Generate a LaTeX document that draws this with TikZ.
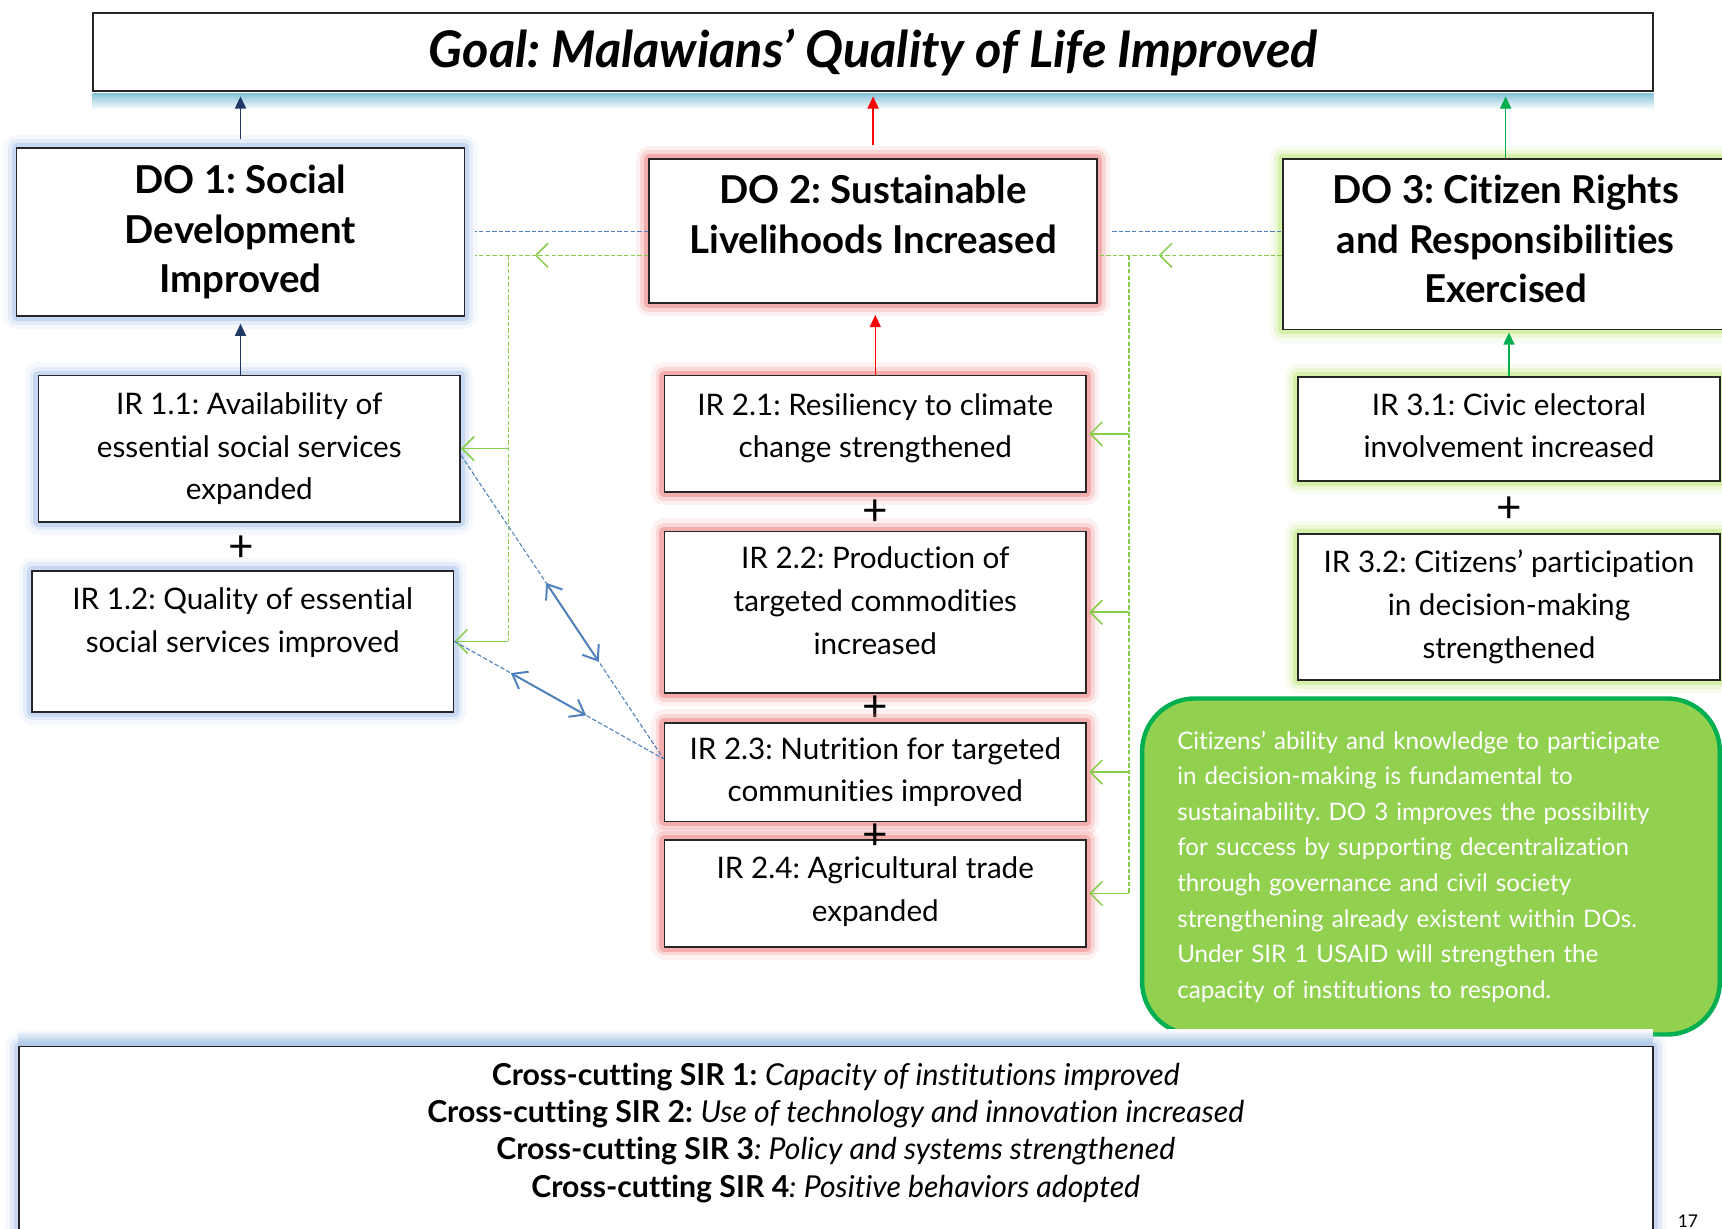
\documentclass[tikz,border=0pt]{standalone}
\usepackage{fontspec}
\setmainfont{Lato}[Ligatures=CommonOff]
\usetikzlibrary{arrows.meta,calc,decorations.markings}
\definecolor{glowblue}{HTML}{AFC8EA}
\definecolor{glowred}{HTML}{F08A8A}
\definecolor{glowgreen}{HTML}{C6E985}
\definecolor{glowtitle}{HTML}{84C3D8}
\definecolor{dashblue}{HTML}{4F81BD}
\definecolor{dashgreen}{HTML}{86CE4A}
\definecolor{boxgreen}{HTML}{92D050}
\definecolor{darkgreen}{HTML}{00B050}
\definecolor{navy}{HTML}{1F3864}
\begin{document}
\frenchspacing
\begin{tikzpicture}[x=1pt,y=-1pt,
    glow/.style={preaction={draw=#1,line width=24pt,opacity=.12,line join=round},
        preaction={draw=#1,line width=16pt,opacity=.25,line join=round},
        preaction={draw=#1,line width=9pt,opacity=.55,line join=round}},
    box/.style={draw=black!85,line width=1.6pt,fill=white,align=center,inner sep=0pt},
    dobox/.style={box,font=\fontsize{35}{45}\selectfont\bfseries},
    irbox/.style={box,minimum width=384pt,font=\fontsize{27}{39}\selectfont},
    plus/.style={font=\fontsize{40}{40}\selectfont,inner sep=0pt},
    bdash/.style={dashblue,line width=1pt,dash pattern=on 4pt off 2pt},
    gdash/.style={dashgreen,line width=1pt,dash pattern=on 4pt off 2pt},
    gmid/.style={postaction={decorate,decoration={markings,
        mark=at position #1 with {\arrow[line width=1.4pt]{Straight Barb[length=11pt,width=22pt]}}}}},
    gstub/.style={dashgreen,line width=1.4pt,-{Straight Barb[length=11pt,width=22pt]}},
    both/.style={dashblue,line width=1.8pt,{Straight Barb[length=12pt,width=18pt]}-{Straight Barb[length=12pt,width=18pt]}},
    uparr/.style={#1,line width=1.4pt,-{Triangle[length=11pt,width=10pt]}}]
    \useasboundingbox (0,0) rectangle (1568,1119);
    \node[box,minimum width=1420pt,minimum height=71pt,font=\fontsize{46}{50}\selectfont\bfseries\itshape] (goal) at (795,47.5) {Goal: Malawians’ Quality of Life Improved};
    \shade[top color=glowtitle,bottom color=white] ([yshift=-1pt]goal.south west) rectangle ([yshift=-16pt]goal.south east);
    \node[dobox,glow=glowblue,minimum width=408pt,minimum height=153pt] (do1) at (219,211.5) {DO 1: Social\\Development\\Improved\\[-39pt]~};
    \node[dobox,glow=glowred,minimum width=408pt,minimum height=131pt] (do2) at (795,210.5) {DO 2: Sustainable\\Livelihoods Increased\\[-14pt]~};
    \node[dobox,glow=glowgreen,minimum width=406pt,minimum height=155pt] (do3) at (1371,222.5) {DO 3: Citizen Rights\\and Responsibilities\\Exercised\\[-35pt]~};
    \node[irbox,glow=glowblue,minimum height=133pt] (ir11) at (227,408.5) {IR 1.1: Availability of\\essential social services\\expanded};
    \node[plus] (p1) at (220,500) {+};
    \node[irbox,glow=glowblue,minimum height=128pt] (ir12) at (221,584) {IR 1.2: Quality of essential\\social services improved\\~};
    \node[irbox,glow=glowred,minimum height=106pt] (ir21) at (797,395) {IR 2.1: Resiliency to climate\\change strengthened\\[-24pt]~};
    \node[plus] (p2) at (797,467) {+};
    \node[irbox,glow=glowred,minimum height=147pt] (ir22) at (797,557.5) {IR 2.2: Production of\\targeted commodities\\increased\\[-18pt]~};
    \node[plus] (p3) at (797,645) {+};
    \node[irbox,glow=glowred,minimum height=90pt] (ir23) at (797,703) {IR 2.3: Nutrition for targeted\\communities improved};
    \node[irbox,glow=glowred,minimum height=97pt] (ir24) at (797,813.5) {IR 2.4: Agricultural trade\\expanded\\[-31pt]~};
    \node[plus] (p4) at (797,762) {+};
    \node[irbox,glow=glowgreen,minimum height=95pt] (ir31) at (1374,390.5) {IR 3.1: Civic electoral\\involvement increased\\[-33pt]~};
    \node[plus] (p5) at (1374,464) {+};
    \node[irbox,glow=glowgreen,minimum height=133pt] (ir32) at (1374,552.5) {IR 3.2: Citizens’ participation\\in decision-making\\strengthened};
    \node[draw=darkgreen,line width=4pt,fill=boxgreen,rounded corners=48pt,minimum width=526pt,minimum height=306pt,
        text width=462pt,align=left,text=white,font=\fontsize{22}{32.4}\selectfont] (note) at (1303,789)
        {Citizens’ ability and knowledge to participate\\in decision-making is fundamental to\\sustainability. DO 3 improves the possibility\\for success by supporting decentralization\\through governance and civil society\\strengthening already existent within DOs.\\Under SIR 1 USAID will strengthen the\\capacity of institutions to respond.};
    \shade[bottom color=glowblue,top color=white] ([yshift=16pt]761,953) ++(-744,0) rectangle (1505,953);
    \node[box,glow=glowblue,minimum width=1488pt,minimum height=174pt,font=\fontsize{27.5}{34}\selectfont] (sir) at (761,1040)
        {\textbf{Cross-cutting SIR 1:} \textit{Capacity of institutions improved}\\
         \textbf{Cross-cutting SIR 2:} \textit{Use of technology and innovation increased}\\
         \textbf{Cross-cutting SIR 3}\textit{: Policy and systems strengthened}\\
         \textbf{Cross-cutting SIR 4}\textit{: Positive behaviors adopted}\\[-12pt]~};
    \node[font=\fontsize{16}{16}\selectfont,anchor=base] (page) at (1537,1118) {17};
    \draw[uparr=navy,shorten <=8pt,shorten >=4pt] (do1.north) -- (do1.north |- goal.south);
    \draw[uparr=red,shorten <=12pt,shorten >=4pt] (do2.north) -- (do2.north |- goal.south);
    \draw[uparr=darkgreen,shorten >=4pt] (do3.north) -- (do3.north |- goal.south);
    \draw[uparr=navy,shorten >=6pt] (do1.south |- ir11.north) -- (do1.south);
    \draw[uparr=red,shorten >=10pt] (ir21.north) -- (ir21.north |- do2.south);
    \draw[uparr=darkgreen,shorten >=2pt] (ir31.north) -- (ir31.north |- do3.south);
    \draw[bdash,shorten >=9pt] (do2.west) -- (do2.west -| do1.east);
    \draw[bdash,shorten <=13pt] (do2.east) -- (do2.east -| do3.west);
    \coordinate (g1) at ([yshift=-22pt]do2.west);
    \coordinate (g2) at ([yshift=-22pt]do2.east);
    \coordinate (j1) at (463,233);
    \coordinate (j2) at (1028,233);
    \draw[gdash,gmid=.62,shorten >=9pt] (g1) -- (g1 -| do1.east);
    \draw[gdash,gmid=.67] (g2 -| do3.west) -- (g2);
    \draw[gdash] (j1) -- (j1 |- ir12.east);
    \draw[gdash] (j2) -- (j2 |- ir24.east);
    \draw[gstub] (j1 |- ir11.east) -- (ir11.east);
    \draw[gstub] (j1 |- ir12.east) -- (ir12.east);
    \foreach \n in {ir21,ir22,ir23,ir24}
        \draw[gstub,shorten >=2pt] (j2 |- \n.east) -- (\n.east);
    \coordinate (b11) at ([yshift=-6pt]ir11.east);
    \coordinate (b23) at ([yshift=12pt]ir23.west);
    \draw[bdash] (b11) -- (b23);
    \draw[bdash] (ir12.east) -- (b23);
    \draw[both] ($(b11)!.42!(b23)$) -- ($(b11)!.68!(b23)$);
    \draw[both] ($(ir12.east)!.27!(b23)$) -- ($(ir12.east)!.63!(b23)$);
\end{tikzpicture}
\end{document}
